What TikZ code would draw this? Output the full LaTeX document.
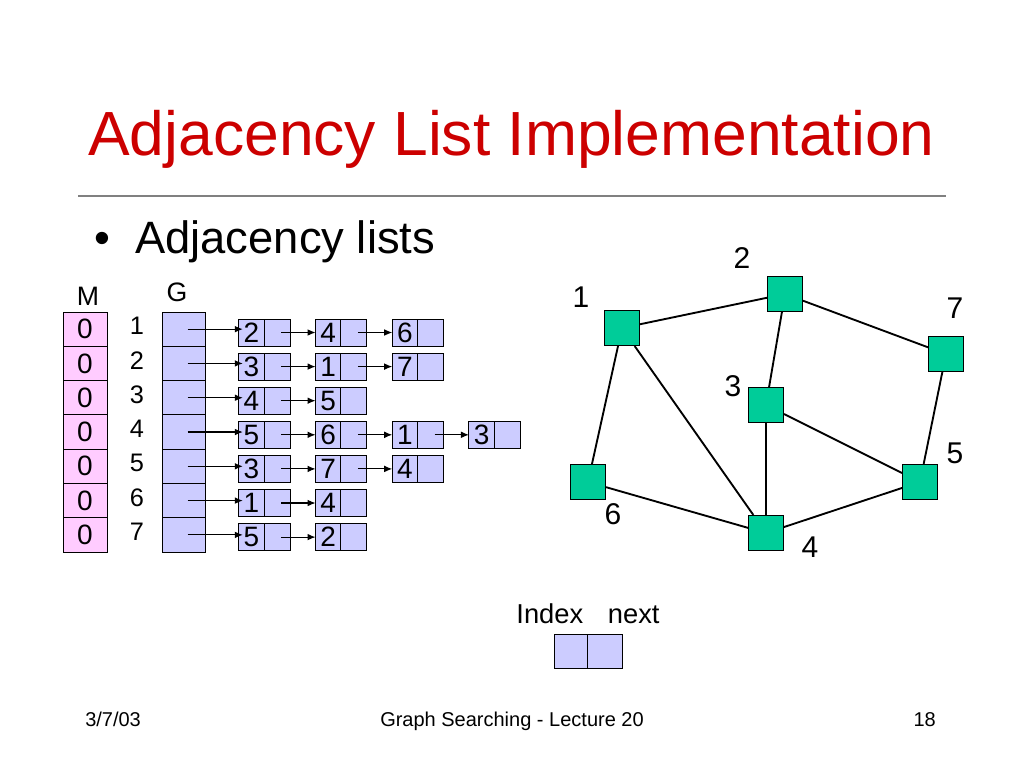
\documentclass[tikz,border=0pt]{standalone}
\usepackage{fontspec}
\setmainfont{Liberation Sans}
\usetikzlibrary{arrows.meta,positioning}
\definecolor{titlered}{RGB}{204,0,0}
\definecolor{mpink}{RGB}{255,204,255}
\definecolor{glav}{RGB}{204,204,255}
\definecolor{vgreen}{RGB}{0,204,153}
\tikzset{
  txt/.style={inner sep=0pt},
  mcell/.style={draw, fill=mpink, minimum width=33pt, minimum height=25.7pt,
    inner sep=0pt, outer sep=0pt, line width=0.75pt, font=\fontsize{21}{21}\selectfont},
  gcell/.style={mcell, fill=glav, minimum width=32.25pt},
  idxcell/.style={draw, fill=glav, minimum width=19pt, minimum height=20.25pt,
    inner sep=0pt, outer sep=0pt, line width=0.75pt, font=\fontsize{21}{21}\selectfont},
  nextcell/.style={idxcell, minimum width=19.5pt},
  vert/.style={draw, fill=vgreen, minimum size=26pt, inner sep=0pt, line width=1pt},
  vlabel/.style={txt, font=\fontsize{22.5}{22.5}\selectfont},
  ptr/.style={-{Latex[length=6pt,width=5pt]}, line width=0.8pt},
  gedge/.style={line width=1.4pt}
}
\begin{document}
\begin{tikzpicture}[x=0.75pt, y=-0.75pt]
  \useasboundingbox (0,0) rectangle (1024,768);
  % title and bullet
  \node[txt, anchor=base west, text=titlered, font=\fontsize{46.8}{50}\selectfont] (title) at (88,155) {Adjacency List Implementation};
  \draw[gray, line width=0.9pt] (78,196) -- (946,196);
  \node[txt, anchor=base, font=\fontsize{34}{36}\selectfont] (bullet) at (102,253) {\textbullet};
  \node[txt, anchor=base west, font=\fontsize{34}{36}\selectfont] (sub) at (135,253) {Adjacency lists};

  % M and G arrays
  \node[txt, font=\fontsize{20}{20}\selectfont] (mlab) at (88,296) {M};
  \node[txt, font=\fontsize{20}{20}\selectfont] (glab) at (177,292) {G};
  \foreach \i in {1,...,7} {
    \node[mcell] (m\i) at (85,{312+34.29*(\i-0.5)}) {0};
    \node[gcell] (g\i) at (183.5,{312+34.29*(\i-0.5)}) {};
    \node[txt, font=\fontsize{19}{19}\selectfont] (r\i) at (137,{326+34.29*(\i-1)}) {\i};
  }

  % adjacency lists
  \foreach \r/\vals in {1/{2,4,6}, 2/{3,1,7}, 3/{4,5}, 4/{5,6,1,3}, 5/{3,7,4}, 6/{1,4}, 7/{5,2}} {
    \foreach \v [count=\c, remember=\c as \lastc (initially 0)] in \vals {
      \node[idxcell] (c-\r-\c) at ({251.5+76.7*(\c-1)},{332.5+34.1*(\r-1)}) {\v};
      \node[nextcell, right=0pt of c-\r-\c] (n-\r-\c) {};
      \ifnum\c>1
        \draw[ptr] ([xshift=3pt]n-\r-\lastc.center) -- (c-\r-\c.west);
      \fi
    }
    \draw[ptr] ([xshift=3pt]g\r.center) -- ([xshift=3pt]g\r.center -| c-\r-1.west);
  }

  % graph
  \foreach \v/\x/\y/\lx/\ly in {1/622/328/581/297, 2/785/294/742/258, 3/766/405/733/386,
      4/766/533/810/547, 5/920/482/955/453, 6/588/482/613/514, 7/946/354/955/308} {
    \node[vert] (v\v) at (\x,\y) {};
    \node[vlabel] (l\v) at (\lx,\ly) {\v};
  }
  \foreach \a/\b in {1/2, 1/6, 1/4, 2/3, 2/7, 3/4, 3/5, 7/5, 6/4, 4/5}
    \draw[gedge] (v\a) -- (v\b);

  % key
  \node[txt, anchor=base, font=\fontsize{20.5}{22}\selectfont] (keylab) at (588,623) {Index\hspace{18.5pt}next};
  \node[idxcell, minimum width=24.75pt, minimum height=25.5pt] (keyidx) at (570.5,651) {};
  \node[nextcell, minimum width=26.25pt, minimum height=25.5pt, right=0pt of keyidx] (keynext) {};

  % footer
  \node[txt, anchor=base west, font=\fontsize{15}{16}\selectfont] (date) at (85,726) {3/7/03};
  \node[txt, anchor=base, font=\fontsize{15}{16}\selectfont] (foot) at (512,726) {Graph Searching - Lecture 20};
  \node[txt, anchor=base east, font=\fontsize{15}{16}\selectfont] (page) at (936,726) {18};
\end{tikzpicture}
\end{document}
